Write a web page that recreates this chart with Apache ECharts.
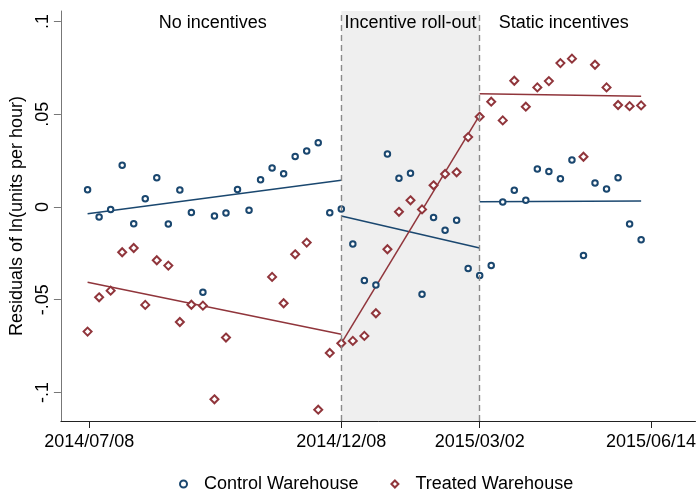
<!DOCTYPE html>
<html>
<head>
<meta charset="utf-8">
<script src="https://cdn.jsdelivr.net/npm/echarts@6/dist/echarts.min.js"></script>
<style>
html,body{margin:0;padding:0;background:#fff;}
#chart{width:699px;height:489px;}
</style>
</head>
<body>
<div id="chart"></div>
<script>
// Weekly observation dates (Mondays)
const weeks = [
  '2014-07-07','2014-07-14','2014-07-21','2014-07-28','2014-08-04','2014-08-11','2014-08-18','2014-08-25',
  '2014-09-01','2014-09-08','2014-09-15','2014-09-22','2014-09-29','2014-10-06','2014-10-13','2014-10-20',
  '2014-10-27','2014-11-03','2014-11-10','2014-11-17','2014-11-24','2014-12-01','2014-12-08','2014-12-15',
  '2014-12-22','2014-12-29','2015-01-05','2015-01-12','2015-01-19','2015-01-26','2015-02-02','2015-02-09',
  '2015-02-16','2015-02-23','2015-03-02','2015-03-09','2015-03-16','2015-03-23','2015-03-30','2015-04-06',
  '2015-04-13','2015-04-20','2015-04-27','2015-05-04','2015-05-11','2015-05-18','2015-05-25','2015-06-01',
  '2015-06-08'
];
const control = [
  0.0093, -0.0054, -0.0013, 0.0225, -0.0090, 0.0045, 0.0158, -0.0092, 0.0092, -0.0029,
  -0.0460, -0.0049, -0.0032, 0.0095, -0.0018, 0.0147, 0.0210, 0.0180, 0.0273, 0.0302,
  0.0347, -0.0031, -0.0011, -0.0199, -0.0397, -0.0420, 0.0286, 0.0155, 0.0182, -0.0470,
  -0.0056, -0.0126, -0.0072, -0.0332, -0.0370, -0.0316, 0.0027, 0.0090, 0.0036, 0.0205,
  0.0192, 0.0153, 0.0253, -0.0262, 0.0129, 0.0097, 0.0158, -0.0092, -0.0176
];
const treated = [
  -0.0672, -0.0487, -0.0451, -0.0244, -0.0221, -0.0528, -0.0287, -0.0316, -0.0620, -0.0527,
  -0.0532, -0.1037, -0.0704, null, null, null, -0.0377, -0.0519, -0.0255, -0.0192,
  -0.1093, -0.0787, -0.0735, -0.0722, -0.0695, -0.0573, -0.0228, -0.0026, 0.0036, -0.0013,
  0.0117, 0.0178, 0.0187, 0.0377, 0.0487, 0.0568, 0.0467, 0.0681, 0.0541, 0.0645,
  0.0679, 0.0776, 0.0800, 0.0271, 0.0767, 0.0645, 0.0550, 0.0544, 0.0548
];
// Fitted trend segments: [startDate, startValue, endDate, endValue]
const fitControl = [
  ['2014-07-07', -0.0036, '2014-12-08', 0.0144],
  ['2014-12-08', -0.0049, '2015-03-02', -0.0221],
  ['2015-03-02', 0.0029, '2015-06-08', 0.0032]
];
const fitTreated = [
  ['2014-07-07', -0.0406, '2014-12-08', -0.0686],
  ['2014-12-08', -0.0735, '2015-03-02', 0.0496],
  ['2015-03-02', 0.0611, '2015-06-08', 0.0597]
];
const xTickDates = ['2014-07-08', '2014-12-08', '2015-03-02', '2015-06-14'];
const yTickValues = [-0.1, -0.05, 0, 0.05, 0.1];
const yTickLabels = ['-.1', '-.05', '0', '.05', '.1'];
const phaseBreaks = ['2014-12-08', '2015-03-02'];
const phaseNames = ['No incentives', 'Incentive roll-out', 'Static incentives'];
const seriesNames = ['Control Warehouse', 'Treated Warehouse'];

// label anchors (layout, not data)
const phaseLabelAnchors = [['2014-09-21', 0.0992], ['2015-01-19', 0.0992], ['2015-04-22', 0.0992]];

const BASE = Date.UTC(2014, 6, 8);
function day(s) {
  const p = s.split('-').map(Number);
  return (Date.UTC(p[0], p[1] - 1, p[2]) - BASE) / 86400000;
}
const BLUE = '#1a476f', RED = '#90353b';
const FONT = 'Liberation Sans, Arial, sans-serif';

const tickDays = xTickDates.map(day);

const fitSeries = [];
fitControl.forEach(s => fitSeries.push({ c: BLUE, s }));
fitTreated.forEach(s => fitSeries.push({ c: RED, s }));

const chart = echarts.init(document.getElementById('chart'), null, { renderer: 'canvas' });
const option = {
  animation: false,
  backgroundColor: '#fff',
  textStyle: { fontFamily: FONT },
  grid: { left: 60, right: 1, top: 11, bottom: 68, containLabel: false },
  legend: {
    data: [
      { name: seriesNames[0], icon: 'emptyCircle' },
      { name: seriesNames[1], icon: 'emptyDiamond' }
    ],
    left: 174, top: 470,
    itemWidth: 7, itemHeight: 7, itemGap: 32,
    itemStyle: { borderWidth: 1.3, opacity: 1 },
    textStyle: { fontFamily: FONT, fontSize: 18, color: '#000', padding: [0, 0, 0, 12] }
  },
  xAxis: {
    type: 'value', min: -17.2, max: 368,
    axisLine: { show: true, onZero: false, lineStyle: { color: '#222', width: 1 } },
    axisTick: { show: true, length: 7, customValues: tickDays, lineStyle: { color: '#222' } },
    axisLabel: {
      customValues: tickDays, margin: 12, fontSize: 18, color: '#000', fontFamily: FONT,
      formatter: v => {
        const i = tickDays.findIndex(d => Math.abs(d - v) < 0.01);
        return i >= 0 ? xTickDates[i].replace(/-/g, '/') : '';
      }
    },
    splitLine: { show: false }
  },
  yAxis: {
    type: 'value', min: -0.1154, max: 0.1057,
    name: 'Residuals of ln(units per hour)', nameLocation: 'middle', nameGap: 32, nameRotate: 90,
    nameTextStyle: { fontSize: 18, color: '#000', fontFamily: FONT },
    axisLine: { show: true, onZero: false, lineStyle: { color: '#777', width: 1 } },
    axisTick: { show: true, length: 7, customValues: yTickValues, lineStyle: { color: '#777' } },
    axisLabel: {
      customValues: yTickValues, rotate: 90, margin: 9, fontSize: 18, color: '#000', fontFamily: FONT,
      formatter: v => {
        const i = yTickValues.findIndex(t => Math.abs(t - v) < 1e-6);
        return i >= 0 ? yTickLabels[i] : '';
      }
    },
    splitLine: { show: false }
  },
  series: [
    {
      type: 'line', name: 'phases', data: [], z: 0, silent: true,
      markArea: {
        silent: true,
        itemStyle: { color: '#efefef' },
        data: [[{ xAxis: day(phaseBreaks[0]) }, { xAxis: day(phaseBreaks[1]) }]]
      },
      markLine: {
        silent: true, symbol: 'none', label: { show: false },
        lineStyle: { color: '#8a8a8a', type: [6, 4], width: 1.4 },
        data: phaseBreaks.map(d => ({ xAxis: day(d) }))
      }
    },
    ...fitSeries.map(f => ({
      type: 'line', symbol: 'none', silent: true, z: 3,
      lineStyle: { color: f.c, width: 1.5 },
      data: [[day(f.s[0]), f.s[1]], [day(f.s[2]), f.s[3]]]
    })),
    {
      type: 'scatter', name: seriesNames[0], symbol: 'emptyCircle', symbolSize: 5.5, z: 4,
      itemStyle: { color: BLUE, borderColor: BLUE, borderWidth: 1.5, opacity: 1 },
      data: weeks.map((w, i) => [day(w), control[i]])
    },
    {
      type: 'scatter', name: seriesNames[1], symbol: 'emptyDiamond', symbolSize: 8, z: 4,
      itemStyle: { color: RED, borderColor: RED, borderWidth: 1.5, opacity: 1 },
      data: weeks.map((w, i) => treated[i] === null ? null : [day(w), treated[i]]).filter(d => d)
    },
    {
      type: 'scatter', name: 'phaseLabels', symbolSize: 0, silent: true, z: 5,
      itemStyle: { opacity: 1 },
      label: {
        show: true, position: 'inside', fontSize: 18, color: '#000', fontFamily: FONT,
        formatter: p => phaseNames[p.dataIndex]
      },
      data: phaseLabelAnchors.map(a => [day(a[0]), a[1]])
    }
  ]
};
chart.setOption(option);
</script>
</body>
</html>
